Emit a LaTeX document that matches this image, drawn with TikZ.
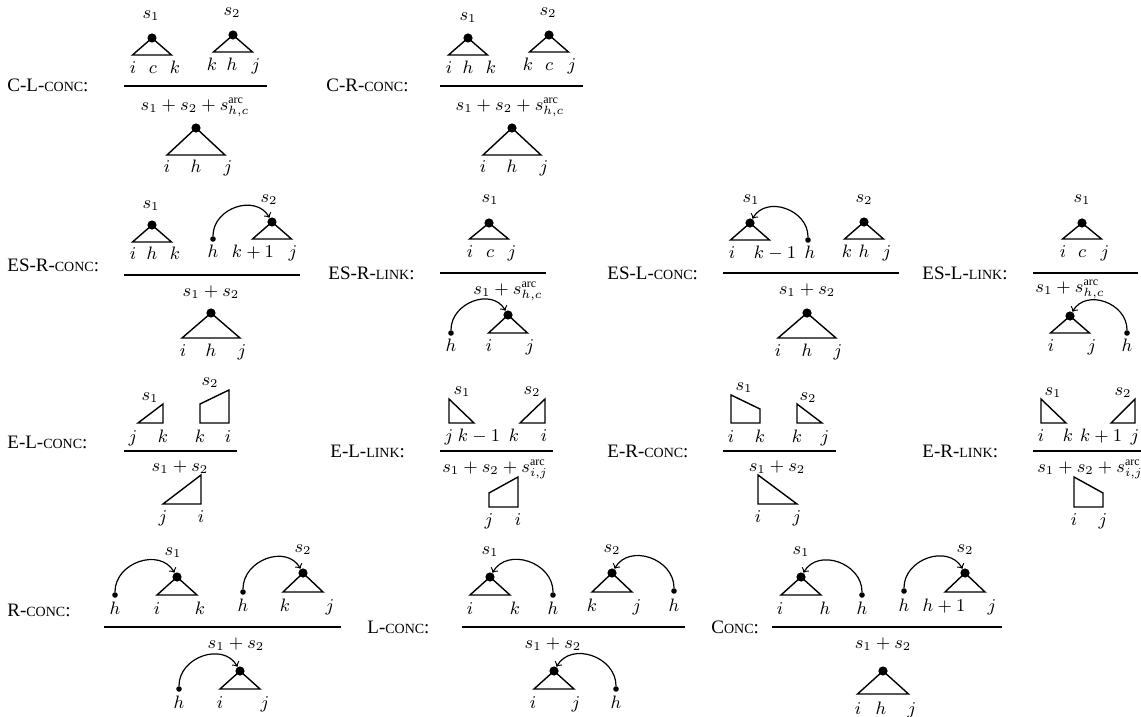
\documentclass[tikz,border=0pt]{standalone}
\usepackage{fontspec}
\setmainfont{Liberation Serif}
\newcommand{\smc}[1]{{\fontsize{7pt}{8pt}\selectfont #1}}

\begin{document}
\begin{tikzpicture}[x=0.5pt,y=-0.5pt,
    every node/.style={font=\fontsize{9pt}{11pt}\selectfont},
    lbl/.style={inner sep=0pt,text height=1.5ex,text depth=.25ex},
    rname/.style={inner sep=0pt,anchor=west,font=\fontsize{9.5pt}{11pt}\selectfont},
    apex/.style={circle,fill,inner sep=0pt,minimum size=4.6pt},
    leaf/.style={circle,fill,inner sep=0pt,minimum size=2.8pt},
    tri/.style={line width=0.7pt},
    rl/.style={line width=0.6pt},
    dep/.style={->,line width=0.6pt,looseness=1.2}]
  \useasboundingbox (0,0) rectangle (1141,717);

  % C-L-conc
  \node[rname] (clc) at (7,85) {C-L-\smc{CONC}:};
  \node[lbl] (clc-s1) at (151,13) {$s_1$};
  \node[lbl] (clc-s2) at (232,10) {$s_2$};
  \node[apex] (clc-a1) at (152,38) {};
  \draw[tri] (clc-a1.center) -- ++(-19.5,17) -- ++(39,0) -- cycle;
  \node[lbl] (clc-i) at (133,68) {$i$};
  \node[lbl] (clc-c) at (153,68) {$c$};
  \node[lbl] (clc-k) at (175,68) {$k$};
  \node[apex] (clc-a2) at (233,35) {};
  \draw[tri] (clc-a2.center) -- ++(-19.5,17) -- ++(39,0) -- cycle;
  \node[lbl] (clc-k2) at (212,65) {$k$};
  \node[lbl] (clc-h) at (232,65) {$h$};
  \node[lbl] (clc-j) at (256,65) {$j$};
  \draw[rl] (124,86) -- (267,86);
  \node[lbl] (clc-sc) at (195,105) {$s_1+s_2+s^{\mathrm{arc}}_{h,c}$};
  \node[apex] (clc-a3) at (196,128) {};
  \draw[tri] (clc-a3.center) -- ++(-29,27) -- ++(58,0) -- cycle;
  \node[lbl] (clc-i3) at (167,167) {$i$};
  \node[lbl] (clc-h3) at (196,167) {$h$};
  \node[lbl] (clc-j3) at (228,167) {$j$};

  % C-R-conc
  \node[rname] (crc) at (326,85) {C-R-\smc{CONC}:};
  \node[lbl] (crc-s1) at (468,15) {$s_1$};
  \node[lbl] (crc-s2) at (548,10) {$s_2$};
  \node[apex] (crc-a1) at (468,38) {};
  \draw[tri] (crc-a1.center) -- ++(-19.5,17) -- ++(39,0) -- cycle;
  \node[lbl] (crc-i) at (449,68) {$i$};
  \node[lbl] (crc-h) at (468,68) {$h$};
  \node[lbl] (crc-k) at (491,68) {$k$};
  \node[apex] (crc-a2) at (549,35) {};
  \draw[tri] (crc-a2.center) -- ++(-19.5,17) -- ++(39,0) -- cycle;
  \node[lbl] (crc-k2) at (528,65) {$k$};
  \node[lbl] (crc-c) at (549,65) {$c$};
  \node[lbl] (crc-j) at (572,65) {$j$};
  \draw[rl] (440,86) -- (583,86);
  \node[lbl] (crc-sc) at (510,105) {$s_1+s_2+s^{\mathrm{arc}}_{h,c}$};
  \node[apex] (crc-a3) at (512,128) {};
  \draw[tri] (crc-a3.center) -- ++(-29,27) -- ++(58,0) -- cycle;
  \node[lbl] (crc-i3) at (483,167) {$i$};
  \node[lbl] (crc-h3) at (512,167) {$h$};
  \node[lbl] (crc-j3) at (544,167) {$j$};

  % ES-R-conc
  \node[rname] (esrc) at (7,265) {ES-R-\smc{CONC}:};
  \node[lbl] (esrc-s1) at (151,203) {$s_1$};
  \node[lbl] (esrc-s2) at (269,197) {$s_2$};
  \node[apex] (esrc-a1) at (152,225) {};
  \draw[tri] (esrc-a1.center) -- ++(-19.5,17) -- ++(39,0) -- cycle;
  \node[lbl] (esrc-i) at (133,254) {$i$};
  \node[lbl] (esrc-h) at (152,254) {$h$};
  \node[lbl] (esrc-k) at (175,254) {$k$};
  \node[leaf] (esrc-d) at (213,239) {};
  \node[apex] (esrc-a2) at (272,222) {};
  \draw[tri] (esrc-a2.center) -- ++(-19.5,17) -- ++(39,0) -- cycle;
  \draw[dep] (esrc-d) to[out=90,in=120] (esrc-a2);
  \node[lbl] (esrc-h2) at (213,252) {$h$};
  \node[lbl] (esrc-k2) at (253,252) {$k+1$};
  \node[lbl] (esrc-j) at (293,252) {$j$};
  \draw[rl] (124,275) -- (300,275);
  \node[lbl] (esrc-sc) at (211,291) {$s_1+s_2$};
  \node[apex] (esrc-a3) at (211,313) {};
  \draw[tri] (esrc-a3.center) -- ++(-29,25) -- ++(58,0) -- cycle;
  \node[lbl] (esrc-i3) at (183,351) {$i$};
  \node[lbl] (esrc-h3) at (211,351) {$h$};
  \node[lbl] (esrc-j3) at (242,351) {$j$};

  % ES-R-link
  \node[rname] (esrl) at (328,273) {ES-R-\smc{LINK}:};
  \node[lbl] (esrl-s1) at (490,197) {$s_1$};
  \node[apex] (esrl-a1) at (489,223) {};
  \draw[tri] (esrl-a1.center) -- ++(-19.5,16) -- ++(39,0) -- cycle;
  \node[lbl] (esrl-i) at (470,252) {$i$};
  \node[lbl] (esrl-c) at (490,252) {$c$};
  \node[lbl] (esrl-j) at (512,252) {$j$};
  \draw[rl] (440,273) -- (546,273);
  \node[lbl] (esrl-sc) at (508,289) {$s_1+s^{\mathrm{arc}}_{h,c}$};
  \node[leaf] (esrl-d) at (451,333) {};
  \node[apex] (esrl-a2) at (508,315) {};
  \draw[tri] (esrl-a2.center) -- ++(-19.5,18) -- ++(39,0) -- cycle;
  \draw[dep] (esrl-d) to[out=90,in=120] (esrl-a2);
  \node[lbl] (esrl-h2) at (451,346) {$h$};
  \node[lbl] (esrl-i2) at (489,346) {$i$};
  \node[lbl] (esrl-j2) at (530,346) {$j$};

  % ES-L-conc
  \node[rname] (eslc) at (607,273) {ES-L-\smc{CONC}:};
  \node[lbl] (eslc-s1) at (751,197) {$s_1$};
  \node[lbl] (eslc-s2) at (864,197) {$s_2$};
  \node[apex] (eslc-a1) at (750,223) {};
  \draw[tri] (eslc-a1.center) -- ++(-19.5,17) -- ++(39,0) -- cycle;
  \node[leaf] (eslc-d) at (808,240) {};
  \draw[dep] (eslc-d) to[out=90,in=60] (eslc-a1);
  \node[lbl] (eslc-i) at (732,253) {$i$};
  \node[lbl] (eslc-k) at (775,253) {$k-1$};
  \node[lbl] (eslc-h) at (810,253) {$h$};
  \node[apex] (eslc-a2) at (864,222) {};
  \draw[tri] (eslc-a2.center) -- ++(-19.5,17) -- ++(39,0) -- cycle;
  \node[lbl] (eslc-k2) at (847,252) {$k$};
  \node[lbl] (eslc-h2) at (864,252) {$h$};
  \node[lbl] (eslc-j2) at (887,252) {$j$};
  \draw[rl] (723,273) -- (899,273);
  \node[lbl] (eslc-sc) at (807,289) {$s_1+s_2$};
  \node[apex] (eslc-a3) at (807,313) {};
  \draw[tri] (eslc-a3.center) -- ++(-29,25) -- ++(58,0) -- cycle;
  \node[lbl] (eslc-i3) at (778,351) {$i$};
  \node[lbl] (eslc-h3) at (807,351) {$h$};
  \node[lbl] (eslc-j3) at (838,351) {$j$};

  % ES-L-link
  \node[rname] (esll) at (922,273) {ES-L-\smc{LINK}:};
  \node[lbl] (esll-s1) at (1082,197) {$s_1$};
  \node[apex] (esll-a1) at (1082,223) {};
  \draw[tri] (esll-a1.center) -- ++(-19.5,16) -- ++(39,0) -- cycle;
  \node[lbl] (esll-i) at (1063,252) {$i$};
  \node[lbl] (esll-c) at (1082,252) {$c$};
  \node[lbl] (esll-j) at (1105,252) {$j$};
  \draw[rl] (1033,273) -- (1138,273);
  \node[lbl] (esll-sc) at (1070,287) {$s_1+s^{\mathrm{arc}}_{h,c}$};
  \node[apex] (esll-a2) at (1070,316) {};
  \draw[tri] (esll-a2.center) -- ++(-19.5,17) -- ++(39,0) -- cycle;
  \node[leaf] (esll-d) at (1127,333) {};
  \draw[dep] (esll-d) to[out=90,in=60] (esll-a2);
  \node[lbl] (esll-i2) at (1051,346) {$i$};
  \node[lbl] (esll-j2) at (1092,346) {$j$};
  \node[lbl] (esll-h2) at (1127,346) {$h$};

  % E-L-conc
  \node[rname] (elc) at (7,442) {E-L-\smc{CONC}:};
  \node[lbl] (elc-s1) at (150,395) {$s_1$};
  \node[lbl] (elc-s2) at (210,380) {$s_2$};
  \draw[tri] (138,423) -- (163,423) -- (163,404) -- cycle;
  \draw[tri] (200,423) -- (229,423) -- (229,390) -- (200,404) -- cycle;
  \node[lbl] (elc-j) at (133,437) {$j$};
  \node[lbl] (elc-k) at (163,437) {$k$};
  \node[lbl] (elc-k2) at (200,437) {$k$};
  \node[lbl] (elc-i) at (228,437) {$i$};
  \draw[rl] (124,451) -- (237,451);
  \node[lbl] (elc-sc) at (180,466) {$s_1+s_2$};
  \draw[tri] (163,504) -- (201,504) -- (201,475) -- cycle;
  \node[lbl] (elc-j3) at (163,517) {$j$};
  \node[lbl] (elc-i3) at (201,517) {$i$};

  % E-L-link
  \node[rname] (ell) at (330,451) {E-L-\smc{LINK}:};
  \node[lbl] (ell-s1) at (462,389) {$s_1$};
  \node[lbl] (ell-s2) at (532,389) {$s_2$};
  \draw[tri] (449,399) -- (449,423) -- (474,423) -- cycle;
  \draw[tri] (520,423) -- (545,423) -- (545,399) -- cycle;
  \node[lbl] (ell-j) at (449,436) {$j$};
  \node[lbl] (ell-k) at (479,436) {$k-1$};
  \node[lbl] (ell-k2) at (514,436) {$k$};
  \node[lbl] (ell-i) at (544,436) {$i$};
  \draw[rl] (440,451) -- (553,451);
  \node[lbl] (ell-sc) at (495,467) {$s_1+s_2+s^{\mathrm{arc}}_{i,j}$};
  \draw[tri] (489,507) -- (518,507) -- (518,477) -- (489,493) -- cycle;
  \node[lbl] (ell-j3) at (489,520) {$j$};
  \node[lbl] (ell-i3) at (518,520) {$i$};

  % E-R-conc
  \node[rname] (erc) at (607,451) {E-R-\smc{CONC}:};
  \node[lbl] (erc-s1) at (744,385) {$s_1$};
  \node[lbl] (erc-s2) at (808,395) {$s_2$};
  \draw[tri] (731,423) -- (760,423) -- (760,409) -- (731,395) -- cycle;
  \draw[tri] (797,404) -- (797,423) -- (822,423) -- cycle;
  \node[lbl] (erc-i) at (731,437) {$i$};
  \node[lbl] (erc-k) at (760,437) {$k$};
  \node[lbl] (erc-k2) at (797,437) {$k$};
  \node[lbl] (erc-j) at (825,437) {$j$};
  \draw[rl] (723,451) -- (836,451);
  \node[lbl] (erc-sc) at (777,466) {$s_1+s_2$};
  \draw[tri] (758,475) -- (758,504) -- (797,504) -- cycle;
  \node[lbl] (erc-i3) at (758,517) {$i$};
  \node[lbl] (erc-j3) at (797,517) {$j$};

  % E-R-link
  \node[rname] (erl) at (922,451) {E-R-\smc{LINK}:};
  \node[lbl] (erl-s1) at (1053,390) {$s_1$};
  \node[lbl] (erl-s2) at (1123,390) {$s_2$};
  \draw[tri] (1041,399) -- (1041,423) -- (1066,423) -- cycle;
  \draw[tri] (1111,423) -- (1135,423) -- (1135,399) -- cycle;
  \node[lbl] (erl-i) at (1041,436) {$i$};
  \node[lbl] (erl-k) at (1068,436) {$k$};
  \node[lbl] (erl-k2) at (1101,436) {$k+1$};
  \node[lbl] (erl-j) at (1135,436) {$j$};
  \draw[rl] (1033,451) -- (1141,451);
  \node[lbl] (erl-sc) at (1090,467) {$s_1+s_2+s^{\mathrm{arc}}_{i,j}$};
  \draw[tri] (1074,477) -- (1074,507) -- (1103,507) -- (1103,493) -- cycle;
  \node[lbl] (erl-i3) at (1074,520) {$i$};
  \node[lbl] (erl-j3) at (1103,520) {$j$};

  % R-conc
  \node[rname] (rc) at (7,610) {R-\smc{CONC}:};
  \node[lbl] (rc-s1) at (173,550) {$s_1$};
  \node[lbl] (rc-s2) at (303,547) {$s_2$};
  \node[leaf] (rc-d1) at (115,595) {};
  \node[apex] (rc-a1) at (177,577) {};
  \draw[tri] (rc-a1.center) -- ++(-20,18) -- ++(40,0) -- cycle;
  \draw[dep] (rc-d1) to[out=90,in=120] (rc-a1);
  \node[lbl] (rc-h) at (115,609) {$h$};
  \node[lbl] (rc-i) at (157,609) {$i$};
  \node[lbl] (rc-k) at (200,609) {$k$};
  \node[leaf] (rc-d2) at (243,592) {};
  \node[apex] (rc-a2) at (303,573) {};
  \draw[tri] (rc-a2.center) -- ++(-20,19) -- ++(40,0) -- cycle;
  \draw[dep] (rc-d2) to[out=90,in=120] (rc-a2);
  \node[lbl] (rc-h2) at (243,606) {$h$};
  \node[lbl] (rc-k2) at (285,606) {$k$};
  \node[lbl] (rc-j2) at (330,606) {$j$};
  \draw[rl] (104,627) -- (341,627);
  \node[lbl] (rc-sc) at (236,643) {$s_1+s_2$};
  \node[leaf] (rc-d3) at (179,689) {};
  \node[apex] (rc-a3) at (240,671) {};
  \draw[tri] (rc-a3.center) -- ++(-20,18) -- ++(40,0) -- cycle;
  \draw[dep] (rc-d3) to[out=90,in=120] (rc-a3);
  \node[lbl] (rc-h3) at (179,703) {$h$};
  \node[lbl] (rc-i3) at (220,703) {$i$};
  \node[lbl] (rc-j3) at (265,703) {$j$};

  % L-conc
  \node[rname] (lc) at (367,627) {L-\smc{CONC}:};
  \node[lbl] (lc-s1) at (490,549) {$s_1$};
  \node[lbl] (lc-s2) at (612,547) {$s_2$};
  \node[apex] (lc-a1) at (490,577) {};
  \draw[tri] (lc-a1.center) -- ++(-20,18) -- ++(40,0) -- cycle;
  \node[leaf] (lc-d1) at (553,595) {};
  \draw[dep] (lc-d1) to[out=90,in=60] (lc-a1);
  \node[lbl] (lc-i) at (470,609) {$i$};
  \node[lbl] (lc-k) at (515,609) {$k$};
  \node[lbl] (lc-h) at (553,609) {$h$};
  \node[apex] (lc-a2) at (612,573) {};
  \draw[tri] (lc-a2.center) -- ++(-20,19) -- ++(40,0) -- cycle;
  \node[leaf] (lc-d2) at (674,591) {};
  \draw[dep] (lc-d2) to[out=90,in=60] (lc-a2);
  \node[lbl] (lc-k2) at (592,606) {$k$};
  \node[lbl] (lc-j2) at (637,606) {$j$};
  \node[lbl] (lc-h2) at (674,606) {$h$};
  \draw[rl] (462,627) -- (685,627);
  \node[lbl] (lc-sc) at (553,643) {$s_1+s_2$};
  \node[apex] (lc-a3) at (554,671) {};
  \draw[tri] (lc-a3.center) -- ++(-20,18) -- ++(40,0) -- cycle;
  \node[leaf] (lc-d3) at (616,689) {};
  \draw[dep] (lc-d3) to[out=90,in=60] (lc-a3);
  \node[lbl] (lc-i3) at (533,703) {$i$};
  \node[lbl] (lc-j3) at (576,703) {$j$};
  \node[lbl] (lc-h3) at (616,703) {$h$};

  % Conc
  \node[rname] (cc) at (711,627) {C\smc{ONC}:};
  \node[lbl] (cc-s1) at (801,549) {$s_1$};
  \node[lbl] (cc-s2) at (965,547) {$s_2$};
  \node[apex] (cc-a1) at (801,577) {};
  \draw[tri] (cc-a1.center) -- ++(-20,18) -- ++(40,0) -- cycle;
  \node[leaf] (cc-d1) at (862,595) {};
  \draw[dep] (cc-d1) to[out=90,in=60] (cc-a1);
  \node[lbl] (cc-i) at (780,609) {$i$};
  \node[lbl] (cc-h) at (825,609) {$h$};
  \node[lbl] (cc-h1) at (862,609) {$h$};
  \node[leaf] (cc-d2) at (904,591) {};
  \node[apex] (cc-a2) at (965,573) {};
  \draw[tri] (cc-a2.center) -- ++(-20,19) -- ++(40,0) -- cycle;
  \draw[dep] (cc-d2) to[out=90,in=120] (cc-a2);
  \node[lbl] (cc-h2) at (904,606) {$h$};
  \node[lbl] (cc-hh) at (944,606) {$h+1$};
  \node[lbl] (cc-j2) at (992,606) {$j$};
  \draw[rl] (772,627) -- (1002,627);
  \node[lbl] (cc-sc) at (883,643) {$s_1+s_2$};
  \node[apex] (cc-a3) at (883,671) {};
  \draw[tri] (cc-a3.center) -- ++(-25.5,23) -- ++(51,0) -- cycle;
  \node[lbl] (cc-i3) at (858,709) {$i$};
  \node[lbl] (cc-h3) at (881,709) {$h$};
  \node[lbl] (cc-j3) at (912,709) {$j$};
\end{tikzpicture}
\end{document}
